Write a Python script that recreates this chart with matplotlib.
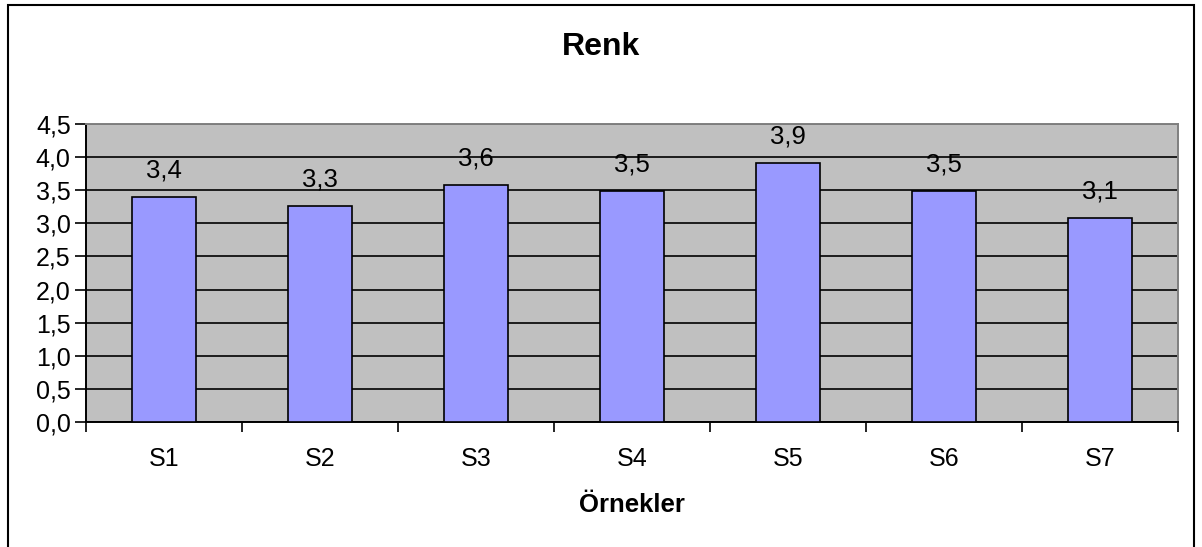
import matplotlib.pyplot as plt
from matplotlib.patches import Rectangle

# data
samples = ['S1', 'S2', 'S3', 'S4', 'S5', 'S6', 'S7']
scores = [3.40, 3.26, 3.58, 3.49, 3.91, 3.49, 3.08]
yticks = [0.0, 0.5, 1.0, 1.5, 2.0, 2.5, 3.0, 3.5, 4.0, 4.5]

plt.rcParams['font.family'] = ['Liberation Sans', 'DejaVu Sans']

W, H = 1202, 547
fig = plt.figure(figsize=(W / 100, H / 100), dpi=100)
fig.patch.set_facecolor('white')

# outer chart border
fig.add_artist(Rectangle((8 / W, -0.05), (1194 - 8) / W, 1.05 - 5 / H,
                         transform=fig.transFigure, fill=False,
                         edgecolor='black', linewidth=1.5))

ax = fig.add_axes([86 / W, 1 - 422 / H, (1178 - 86) / W, (422 - 124) / H])
ax.set_facecolor('#C0C0C0')

x = list(range(len(samples)))
ax.bar(x, scores, width=0.41, color='#9999FF', edgecolor='black',
       linewidth=1.2, zorder=3)

for xi, v in zip(x, scores):
    ax.annotate(f'{v:.1f}'.replace('.', ','), (xi, v), xytext=(0, 14),
                textcoords='offset points', ha='center', va='baseline',
                fontsize=18.5, zorder=4)

ax.set_xlim(-0.5, len(samples) - 0.5)
ax.set_ylim(0, 4.5)
ax.set_yticks(yticks)
ax.set_yticklabels([f'{t:.1f}'.replace('.', ',') for t in yticks], fontsize=18)
ax.yaxis.grid(True, color='black', linewidth=1.2, zorder=1)
ax.set_axisbelow(True)

# ticks between categories, labels at centers
ax.set_xticks([i - 0.5 for i in range(len(samples) + 1)])
ax.set_xticklabels([])
ax.set_xticks(x, minor=True)
ax.set_xticklabels(samples, minor=True, fontsize=18)
ax.tick_params(axis='x', which='minor', length=0, pad=18)
ax.tick_params(axis='x', which='major', length=7, width=1.2, direction='out')
ax.tick_params(axis='y', length=8, width=1.2, direction='out', pad=3)

for side in ['left', 'bottom']:
    ax.spines[side].set_color('black')
    ax.spines[side].set_linewidth(1.4)
for side in ['top', 'right']:
    ax.spines[side].set_color('#808080')
    ax.spines[side].set_linewidth(1.4)

fig.text(0.5 * (8 + 1194) / W, 1 - 47 / H, 'Renk', ha='center', va='center',
         fontsize=23, fontweight='bold')
fig.text((86 + 1178) / 2 / W, 1 - 505 / H, 'Örnekler', ha='center', va='center',
         fontsize=18.5, fontweight='bold')

fig.savefig('out.png', dpi=100)
